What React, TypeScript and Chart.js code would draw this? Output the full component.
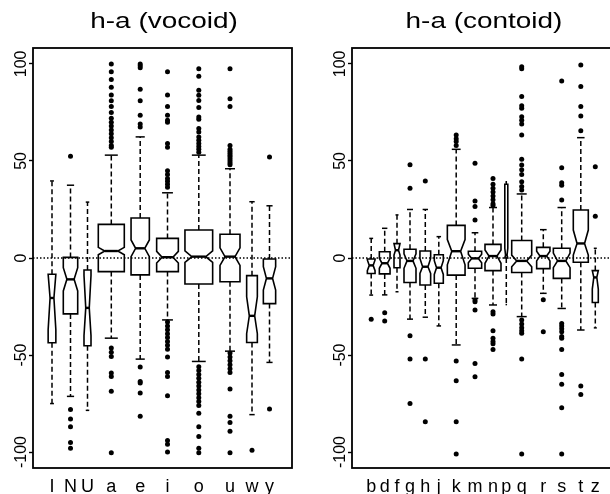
import React, { useEffect, useRef } from "react";
import { Chart, registerables } from "chart.js";
Chart.register(...registerables);

const FONT = "'Liberation Sans', Arial, Helvetica, sans-serif";

// ---------- left panel: h-a (vocoid) ----------
const vocLabels = ["I", "N", "U", "a", "e", "i", "o", "u", "w", "y"];
const vocPos = [19, 37.5, 54.5, 78.3, 107.2, 134.5, 165.8, 197, 219, 236.5];
const vocWidth = [7.7, 14.4, 7, 26, 18.3, 21.7, 27.7, 20, 10.7, 12.3];
const vocWhiskerHigh = [39.7, 37.5, 28.8, 53, 62.4, 33.6, 53, 46, 29, 26.9];
const vocQ3 = [-8.4, 0.3, -6.2, 17.3, 20.6, 10.1, 14.4, 12.2, -9.1, -0.5];
const vocMedian = [-20.6, -11, -25.7, 3.6, 5, 0.4, 0.7, 0.7, -29.8, -10.5];
const vocQ1 = [-43.7, -28.8, -45.2, -7, -8.7, -7, -13.4, -12.2, -43.5, -23.5];
const vocWhiskerLow = [-75, -71.3, -78.5, -41.3, -52.1, -31.9, -53.3, -48, -80.7, -53.8];
const vocNotchHigh = [-8.4, -5, -9, 5.5, 9.3, 3.4, 3.7, 5.2, -20, -4.5];
const vocNotchLow = [-37, -17, -40, 1.7, 0.7, -2.6, -2.3, -3.8, -39, -16.5];
const vocOutliers = [
  [],
  [52.4, -78, -83, -87, -95, -98],
  [],
  [100, 96, 92, 88, 84, 81, 78, 75, 72, 70, 68, 66, 64, 62, 60, 58, 57, -46.4, -48.5, -50.7, -59.3, -61, -68.7, -100.4],
  [100, 99, 98, 87, 81, 73.5, 69, 67.5, -56.2, -63.6, -64.4, -69.6, -81.6],
  [96, 84, 78, 73.5, 71, 70, 59, 57, 45, 43, 41, 39.5, 38, 36.5, -33, -35, -37, -39, -41, -43, -45, -47, -51, -59, -61, -71, -94, -96, -100],
  [97.5, 93.6, 86.4, 83.8, 81.2, 77.5, 72.6, 71.5, 66.7, 64.9, 62.4, 60.7, 59, 57.5, 56, 54.5, -56, -58, -60, -62, -64, -66, -68, -70, -72, -74, -76, -80, -87, -92, -98, -100.4],
  [97.5, 82, 78, 58, 56, 55, 54, 53, 52, 51, 50, 49, 48, -49, -51, -53, -55, -57, -59, -67.5, -81.6, -84.7, -89.3, -100.4],
  [-99],
  [52, -77.8],
];

// ---------- right panel: h-a (contoid) ----------
const conLabels = ["b", "d", "f", "g", "h", "j", "k", "m", "n", "p", "q", "r", "s", "t", "z"];
const conPos = [19.2, 32.7, 45, 58, 73.3, 86.8, 104.2, 123, 141, 154.3, 169.7, 191.3, 209.7, 228.8, 243.3];
const conWidth = [7.7, 10.7, 6, 12, 10.7, 9, 17.7, 13.3, 16, 3, 20, 13.3, 16.7, 15, 6];
const conWhiskerHigh = [10.1, 15.3, 22.2, 25, 25, 11, 56, 13, 26, 39.3, 33, 14.6, 26, 62, 5];
const conQ3 = [-0.5, 3.2, 7.4, 4.5, 3.6, 1.7, 16.8, 3.5, 7, 38, 9, 5.5, 5, 24.7, -6.5];
const conMedian = [-3.8, -2.7, 4, -1.5, -4.5, -5, 3.5, -0.2, 1, 1.5, -1.5, 1, -1.5, 7.5, -10];
const conQ1 = [-8, -8.2, -5, -12.6, -13.9, -13, -8.8, -5.3, -6.5, 0, -7.5, -5.5, -10.5, -2.2, -22.9];
const conWhiskerLow = [-19.1, -19, -17.4, -31.5, -30.5, -35, -44.8, -20.8, -24.2, -24, -30.2, -18.2, -26, -37.1, -36];
const conNotchHigh = [-1, -0.2, 7.4, 2.2, -0.2, -1.4, 9.5, 2, 4.1, 5, 1.5, 3.5, 2.5, 14.4, -6.5];
const conNotchLow = [-6.5, -5.3, 1.5, -5.3, -8, -8.5, -3.5, -2.4, -2.7, 0, -4.5, -1.5, -5, 1.5, -16];
const conOutliers = [
  [-31.5],
  [-28.2, -32.5],
  [],
  [48, 36, -40, -52, -75],
  [39.7, -52, -84.4],
  [],
  [63.4, 61.5, 60, 58, -53.1, -63.2, -84.4, -101],
  [48.8, 29.4, 26.5, 19.6, -21.6, -22.5, -26.8, -54.3, -61.2],
  [41, 38, 36, 34, 32, 30, 28, 27, -27.7, -28.9, -37.5, -41.4, -43, -44.2, -47.1],
  [],
  [98.6, 97.5, 83.2, 78.4, 77.2, 72.8, 71, 69.1, 63.4, 50.9, 47.9, 45.5, 43, 39.3, 36.8, 35, -32, -34, -36, -37.5, -38.8, -52, -101],
  [-21.5, -38],
  [91.2, 46.5, 38.8, 37.5, 29.9, -33.7, -35, -36.5, -38, -40.5, -41.4, -47.1, -60, -65, -77.2, -101],
  [99.5, 88.3, 78, 73.2, 65.5, -66, -70.3],
  [47, 21.5],
];

const yTicks = [100, 50, 0, -50, -100];
const yMin = -108.2;
const yMax = 108.2;

type Panel = {
  title: string;
  labels: string[];
  pos: number[];
  width: number[];
  wHigh: number[];
  q3: number[];
  med: number[];
  q1: number[];
  wLow: number[];
  nHigh: number[];
  nLow: number[];
  outliers: number[][];
  xMax: number;
};

const vocPanel: Panel = {
  title: "h-a (vocoid)", labels: vocLabels, pos: vocPos, width: vocWidth, wHigh: vocWhiskerHigh,
  q3: vocQ3, med: vocMedian, q1: vocQ1, wLow: vocWhiskerLow, nHigh: vocNotchHigh, nLow: vocNotchLow,
  outliers: vocOutliers, xMax: 259,
};
const conPanel: Panel = {
  title: "h-a (contoid)", labels: conLabels, pos: conPos, width: conWidth, wHigh: conWhiskerHigh,
  q3: conQ3, med: conMedian, q1: conQ1, wLow: conWhiskerLow, nHigh: conNotchHigh, nLow: conNotchLow,
  outliers: conOutliers, xMax: 260,
};

function boxPlugin(p: Panel) {
  return {
    id: "notchedBoxes",
    beforeDatasetsDraw(chart: any) {
      const { ctx, chartArea, scales } = chart;
      const x = scales.x;
      const y = scales.y;
      const line = (x1: number, y1: number, x2: number, y2: number) => {
        ctx.beginPath();
        ctx.moveTo(x1, y1);
        ctx.lineTo(x2, y2);
        ctx.stroke();
      };
      ctx.save();
      ctx.strokeStyle = "#000";
      // dotted zero reference line
      ctx.lineWidth = 1.3;
      ctx.setLineDash([1.5, 2]);
      const y0 = y.getPixelForValue(0);
      line(chartArea.left, y0, chartArea.right, y0);
      for (let i = 0; i < p.pos.length; i++) {
        const cx = x.getPixelForValue(p.pos[i]);
        const hw = (x.getPixelForValue(p.pos[i] + p.width[i] / 2) - x.getPixelForValue(p.pos[i] - p.width[i] / 2)) / 2;
        const nw = hw / 2;
        const yq3 = y.getPixelForValue(p.q3[i]);
        const yq1 = y.getPixelForValue(p.q1[i]);
        const ymed = y.getPixelForValue(p.med[i]);
        const ywh = y.getPixelForValue(p.wHigh[i]);
        const ywl = y.getPixelForValue(p.wLow[i]);
        const ynh = y.getPixelForValue(p.nHigh[i]);
        const ynl = y.getPixelForValue(p.nLow[i]);
        // whiskers
        ctx.lineWidth = 1.5;
        ctx.setLineDash([5, 3]);
        line(cx, yq3, cx, ywh);
        line(cx, yq1, cx, ywl);
        ctx.setLineDash([]);
        line(cx - hw / 2, ywh, cx + hw / 2, ywh);
        line(cx - hw / 2, ywl, cx + hw / 2, ywl);
        // notched box
        ctx.lineWidth = 1.6;
        ctx.beginPath();
        ctx.moveTo(cx - hw, yq1);
        ctx.lineTo(cx - hw, ynl);
        ctx.lineTo(cx - nw, ymed);
        ctx.lineTo(cx - hw, ynh);
        ctx.lineTo(cx - hw, yq3);
        ctx.lineTo(cx + hw, yq3);
        ctx.lineTo(cx + hw, ynh);
        ctx.lineTo(cx + nw, ymed);
        ctx.lineTo(cx + hw, ynl);
        ctx.lineTo(cx + hw, yq1);
        ctx.closePath();
        ctx.stroke();
        // median
        ctx.lineWidth = 2.4;
        line(cx - nw, ymed, cx + nw, ymed);
      }
      ctx.restore();
    },
    afterDraw(chart: any) {
      const { ctx, chartArea } = chart;
      ctx.save();
      ctx.strokeStyle = "#000";
      ctx.lineWidth = 1.8;
      ctx.strokeRect(chartArea.left, chartArea.top, chartArea.right - chartArea.left, chartArea.bottom - chartArea.top);
      ctx.restore();
    },
  };
}

function PanelChart(props: { panel: Panel; canvasWidth: number; yAxisWidth: number; rightPad: number }) {
  const ref = useRef<HTMLCanvasElement | null>(null);
  const { panel, canvasWidth, yAxisWidth, rightPad } = props;
  useEffect(() => {
    if (!ref.current) return;
    const points: { x: number; y: number }[] = [];
    panel.outliers.forEach((arr, i) => arr.forEach((v) => points.push({ x: panel.pos[i], y: v })));
    const chart = new Chart(ref.current, {
      type: "scatter",
      data: {
        datasets: [
          {
            data: points,
            pointRadius: 2.5,
            pointHoverRadius: 2.5,
            backgroundColor: "#000",
            borderWidth: 0,
          },
        ],
      },
      options: {
        animation: false,
        responsive: false,
        devicePixelRatio: 1,
        events: [],
        layout: { padding: { left: 0, right: rightPad, top: 48, bottom: 0 } },
        plugins: { legend: { display: false }, tooltip: { enabled: false }, title: { display: false } },
        scales: {
          x: {
            type: "linear",
            min: 0,
            max: panel.xMax,
            afterBuildTicks: (s: any) => {
              s.ticks = panel.pos.map((v) => ({ value: v }));
            },
            afterFit: (s: any) => {
              s.height = 26;
            },
            grid: { display: false },
            border: { display: false },
            ticks: {
              autoSkip: false,
              maxRotation: 0,
              minRotation: 0,
              padding: 0,
              color: "#000",
              font: { family: FONT, size: 18 },
              callback: (_v: any, i: number) => panel.labels[i],
            },
          },
          y: {
            type: "linear",
            min: yMin,
            max: yMax,
            afterBuildTicks: (s: any) => {
              s.ticks = yTicks.map((v) => ({ value: v }));
            },
            afterFit: (s: any) => {
              s.width = yAxisWidth;
            },
            grid: { drawOnChartArea: false, drawTicks: true, tickLength: 4, color: "#000", tickColor: "#000", tickWidth: 1.4 },
            border: { display: false },
            ticks: {
              minRotation: 90,
              maxRotation: 90,
              crossAlign: "center",
              padding: -9,
              color: "#000",
              font: { family: FONT, size: 16 },
              callback: (v: any) => String(v),
            },
          },
        },
      },
      plugins: [boxPlugin(panel)],
    } as any);
    return () => chart.destroy();
  }, [panel, canvasWidth, yAxisWidth, rightPad]);
  return <canvas ref={ref} width={canvasWidth} height={494} style={{ width: canvasWidth, height: 494, display: "block" }} />;
}

const titleStyle = (center: number): React.CSSProperties => ({
  position: "absolute",
  left: center - 150,
  width: 300,
  top: 10,
  textAlign: "center",
  fontFamily: FONT,
  fontSize: 22,
  lineHeight: "22px",
  whiteSpace: "nowrap",
  color: "#000",
  transform: "scaleX(1.27)",
  transformOrigin: "center",
});

export default function App() {
  return (
    <div style={{ position: "fixed", left: 0, top: 0, width: 610, height: 494, overflow: "hidden", background: "#fff" }}>
      <div style={{ position: "absolute", left: 0, top: 0 }}>
        <PanelChart panel={vocPanel} canvasWidth={305} yAxisWidth={33} rightPad={13} />
      </div>
      <div style={{ position: "absolute", left: 305, top: 0 }}>
        <PanelChart panel={conPanel} canvasWidth={310} yAxisWidth={47} rightPad={3} />
      </div>
      <div style={titleStyle(164)}>{vocPanel.title}</div>
      <div style={titleStyle(484)}>{conPanel.title}</div>
    </div>
  );
}
